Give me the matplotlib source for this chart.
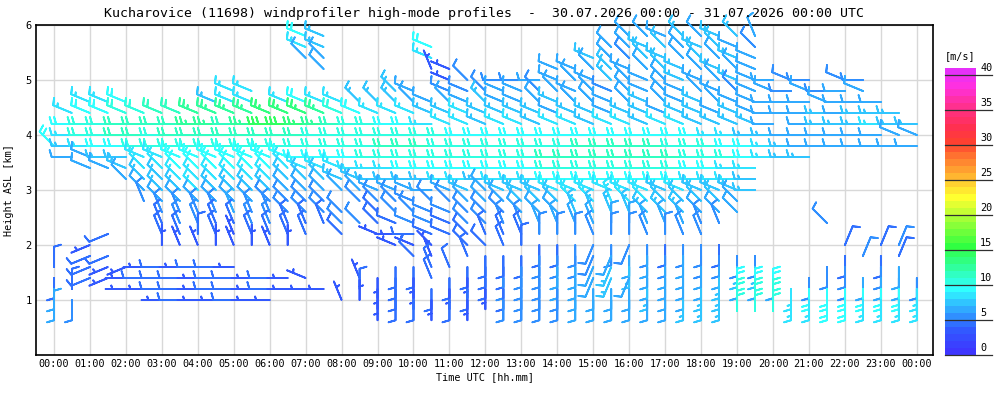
import numpy as np
import matplotlib
matplotlib.use("Agg")
import matplotlib.pyplot as plt
from matplotlib.colors import LinearSegmentedColormap, ListedColormap, BoundaryNorm

# profile times [h UTC] and range gates [km]
times_h = [0.0, 0.5, 1.0, 1.5, 2.0, 2.5, 3.0, 3.5, 4.0, 4.5, 5.0, 5.5,
           6.0, 6.5, 7.0, 7.5, 8.0, 8.5, 9.0, 9.5, 10.0, 10.5, 11.0, 11.5,
           12.0, 12.5, 13.0, 13.5, 14.0, 14.5, 15.0, 15.5, 16.0, 16.5, 17.0, 17.5,
           18.0, 18.5, 19.0, 19.5, 20.0, 20.5, 21.0, 21.5, 22.0, 22.5, 23.0, 23.5,
           24.0]
heights_km = [5.8, 5.6, 5.4, 5.2, 5.0, 4.8, 4.6, 4.4, 4.2, 4.0, 3.8, 3.6, 3.4,
              3.2, 3.0, 2.8, 2.6, 2.4, 2.2, 2.0, 1.8, 1.6, 1.4, 1.2, 1.0, 0.8]

# one token per profile time: 1st char = direction (hex * 22.5 deg, 0=N, 8=S, C=W),
# 2nd char = speed in m/s (hex), ".." = no data
barb_rows = [
    ".. .. .. ..  .. .. .. ..  .. .. .. ..  .. .. D9 D7  .. .. .. ..  .. .. .. ..  .. .. .. ..  .. .. .. ..  E6 E6 D6 E7  E6 D7 E7 F6  .. .. .. ..  .. .. .. ..  ..",
    ".. .. .. ..  .. .. .. ..  .. .. .. ..  .. .. D8 D7  .. .. .. ..  .. D9 .. ..  .. .. .. ..  .. .. .. E6  E6 D7 E7 E6  D7 E7 D6 E5  .. .. .. ..  .. .. .. ..  ..",
    ".. .. .. ..  .. .. .. ..  .. .. .. ..  .. .. E6 E6  .. .. .. ..  .. D8 .. ..  .. .. .. ..  .. .. D7 E6  E5 E7 D7 E6  E7 E6 D7 D6  .. .. .. ..  .. .. .. ..  ..",
    ".. .. .. ..  .. .. .. ..  .. .. .. ..  .. .. .. E6  .. .. .. ..  .. F3 D3 ..  .. .. .. ..  D6 D6 E6 E7  D6 E6 E7 D7  E6 D7 E6 D6  .. .. .. ..  .. .. .. ..  ..",
    ".. .. .. ..  .. .. .. ..  .. .. .. ..  .. .. .. ..  .. .. .. ..  .. .. D3 E5  .. C5 C5 C6  D6 E6 D6 E7  E6 D6 E6 D7  D6 E6 D7 D6  C6 D5 C5 ..  D5 C5 .. ..  ..",
    ".. .. .. ..  .. .. .. ..  .. .. D8 D8  .. .. .. ..  .. .. .. E7  D6 .. D5 D5  E5 D6 D6 E5  E6 D6 E6 D5  E6 D6 E6 D6  E6 D6 E5 D6  D6 C5 D6 C5  C6 D6 .. ..  ..",
    ".. .. D8 D8  D9 .. .. ..  .. D7 D8 D8  .. D8 D9 D8  D8 E7 E7 E7  E6 D6 E6 D6  E7 D6 D6 E6  D7 E6 E6 D6  E6 D7 E6 D6  D7 E6 D6 D6  C6 C6 C6 D6  C6 C6 C6 ..  ..",
    ".. D8 D9 D9  DA DA DB DB  DC DC DC DC  DD DD DD DC  DA D9 D8 D8  D8 D7 D7 D8  D7 D7 D7 D7  D6 D7 D7 D6  D7 D7 D6 D7  D7 D6 D7 D6  C6 C6 C6 C7  C6 C7 C7 C7  ..",
    ".. C9 CA CA  CB CB CB CB  CC CC CB CC  CE CE CD CC  CB CA CA C9  C9 C8 D8 D8  D7 D8 D8 D7  D8 D8 D7 D8  D8 D7 D8 D8  D7 D7 D7 D7  C6 .. C6 C7  C7 C7 C8 C7  C7",
    ".. C8 CA CA  CB CB CA CB  CB CB CB CB  CB CB CB CA  CA CA CA CA  CA CA CA C9  C9 C9 C9 C9  C9 C9 C9 C9  C9 C9 C9 C9  C9 C8 C8 C7  C7 C6 C6 C6  C6 C6 C6 D6  D6",
    "E9 C7 C8 C9  C9 CA CA CA  CA CA CA CA  CA CA CA CA  CA CA CA CB  CB CB CA CA  CA CA CA CA  CA CA CB CB  CB CB CB CA  CA CA C9 C9  C8 C7 C6 C6  C6 C6 C6 C6  C6",
    ".. C6 D6 C7  C7 D8 D8 D9  D9 D9 D9 D9  D9 D9 C9 C9  C9 C9 CA CA  CA CA CA CA  CA CA CA CA  CB CB CB CB  CB CB CB CB  CA CA CA C9  C8 C7 C7 ..  .. .. .. ..  ..",
    ".. .. D6 D6  D7 E8 E8 E9  E9 E9 E9 E9  E9 E8 D8 D8  D8 C8 C8 C8  C9 C9 C9 C9  C9 C9 C9 C9  CA CA CA CA  CA CA CA CA  C9 C9 C8 C8  .. .. .. ..  .. .. .. ..  ..",
    ".. .. .. ..  E6 E7 E7 E8  E8 E8 E8 E8  E8 E7 E7 E7  D7 D7 C7 C7  C7 C7 C8 C8  C7 C8 C8 C8  C9 C9 C9 C9  C9 C9 C9 C9  C8 C8 C8 C7  .. .. .. ..  .. .. .. ..  ..",
    ".. .. .. ..  .. E6 E7 E7  E8 E7 E7 E7  E7 E6 E6 E6  E6 E6 D6 D6  D6 C6 D6 D7  E6 D7 D7 D7  D8 D8 D8 D8  D8 D8 D7 D8  D7 D7 D7 C7  .. .. .. ..  .. .. .. ..  ..",
    ".. .. .. ..  .. F5 E6 E6  E6 E6 E6 E6  E5 E5 E5 E5  .. E5 E5 E5  D5 E5 E5 E6  E6 E6 E7 E7  E7 E8 E8 F8  E8 E8 E7 E7  E7 E7 E6 ..  .. .. .. ..  .. .. .. ..  ..",
    ".. .. .. ..  .. .. F5 F5  F5 F5 F6 F5  F5 E5 E5 E5  E5 .. E4 E5  E5 D5 D5 E5  E5 E5 E6 E6  E6 F7 F7 F7  F7 E7 E7 E7  E6 E6 E6 ..  .. .. .. ..  .. .. .. ..  ..",
    ".. .. .. ..  .. .. F4 F5  F5 F4 F4 F5  F5 F4 F4 F4  E5 E5 E4 D4  D5 D5 D4 E5  E5 F5 F5 F6  F6 F6 F6 06  06 F6 F6 F6  F5 F5 .. ..  .. .. .. E5  .. .. .. ..  ..",
    ".. .. .. B4  .. .. F4 F4  04 F4 F3 F4  F4 F4 F4 ..  E4 .. D3 C3  C4 D4 D4 E4  F4 F4 F4 05  05 05 F5 05  05 F5 05 F5  F5 .. .. ..  .. .. .. ..  .. .. .. ..  ..",
    ".. .. B3 ..  .. .. 03 F3  F3 03 F3 03  F3 03 .. ..  .. .. .. D3  D3 E3 .. E4  E4 F4 04 84  84 85 95 85  95 85 84 85  85 84 .. ..  .. .. .. ..  14 .. 14 15  ..",
    ".. .. B4 B4  .. .. .. ..  .. .. .. ..  .. .. .. ..  .. .. .. ..  E4 F3 .. F4  84 84 84 85  85 85 95 96  86 86 85 86  85 85 85 85  .. .. .. ..  84 15 84 14  ..",
    "04 .. B4 B3  B3 C3 C4 C3  C4 C4 C3 ..  .. .. .. ..  .. .. .. 84  84 F4 F4 84  84 84 85 85  86 86 96 97  87 86 86 86  86 86 87 87  .. .. .. 85  85 .. 85 86  ..",
    "84 .. B4 B3  C3 C4 C4 C4  C3 C4 C4 C3  C4 C3 D3 ..  .. F3 83 84  83 F4 84 83  84 85 85 85  86 86 96 97  96 86 86 86  86 87 86 86  86 .. 85 ..  85 86 86 86  85",
    "86 04 .. ..  C3 C3 C4 C4  C3 C4 C4 C3  C4 C3 C3 C3  .. 04 83 84  83 84 83 84  83 84 85 85  85 86 86 86  86 87 86 86  87 87 09 09  09 88 89 89  89 89 89 89  88",
    "86 85 .. ..  .. .. C3 C4  C3 C3 C4 C3  C3 .. .. ..  F3 03 83 84  84 83 84 83  .. 85 85 85  85 86 86 86  86 86 86 87  87 87 0A 0A  0A 88 88 89  89 88 88 88  88",
    "06 .. .. ..  .. .. .. ..  .. .. .. ..  .. .. .. ..  .. .. .. ..  .. .. .. ..  .. .. .. ..  .. .. .. ..  .. .. .. ..  .. .. 0A 0A  0A .. .. ..  .. .. .. ..  ..",
]

hour_labels = ["00:00", "01:00", "02:00", "03:00", "04:00", "05:00", "06:00",
               "07:00", "08:00", "09:00", "10:00", "11:00", "12:00", "13:00",
               "14:00", "15:00", "16:00", "17:00", "18:00", "19:00", "20:00",
               "21:00", "22:00", "23:00", "00:00"]
hour_ticks = list(range(25))
km_ticks = [1, 2, 3, 4, 5, 6]
speed_ticks = [0, 5, 10, 15, 20, 25, 30, 35, 40]

# colour scale 0..41 m/s in 1 m/s steps
anchors = [(0.0, "#4030ff"), (4.0, "#3060ff"), (5.5, "#3090ff"), (9.5, "#30ffff"),
           (15.5, "#30ff40"), (22.5, "#ffff30"), (30.5, "#ff4030"), (32.5, "#ff3050"),
           (35.0, "#ff3080"), (38.5, "#ff30e0"), (41.0, "#e030ff")]
smooth = LinearSegmentedColormap.from_list("wp", [(p / 41.0, c) for p, c in anchors])
cmap = ListedColormap(smooth((np.arange(41) + 0.5) / 41.0))
norm = BoundaryNorm(np.arange(42), 41)

xs, ys, us, vs, cs = [], [], [], [], []
for z, row in zip(heights_km, barb_rows):
    for t, tok in zip(times_h, row.split()):
        if tok == "..":
            continue
        d = np.deg2rad(int(tok[0], 16) * 22.5)
        s = int(tok[1], 16)
        xs.append(t)
        ys.append(z)
        us.append(-s * np.sin(d))
        vs.append(-s * np.cos(d))
        cs.append(s)

plt.rcParams["font.family"] = "DejaVu Sans Mono"
fig = plt.figure(figsize=(10, 4), dpi=100)
ax = fig.add_axes([0.036, 0.1125, 0.897, 0.825])

# matplotlib scales barb vertices by length/2, so staff ~ length**2/2 points
ax.barbs(xs, ys, us, vs, cs, cmap=cmap, norm=norm, length=5.4, linewidth=1.3,
         barb_increments=dict(half=2.5, full=5, flag=25),
         sizes=dict(spacing=0.22, height=0.34, width=0.2), clip_on=False, zorder=3)

ax.set_xlim(-0.5, 24.45)
ax.set_ylim(0, 6)
ax.set_xticks(hour_ticks)
ax.set_xticklabels(hour_labels, fontsize=7.3)
ax.set_yticks(km_ticks)
ax.set_yticklabels([str(k) for k in km_ticks], fontsize=7.5)
ax.tick_params(length=0, pad=3)
ax.grid(True, color="#d8d8d8", linewidth=1)
ax.set_axisbelow(True)
for sp in ax.spines.values():
    sp.set_linewidth(1.2)
ax.set_xlabel("Time UTC [hh.mm]", fontsize=7.3, labelpad=2)
ax.set_ylabel("Height ASL [km]", fontsize=7.3, labelpad=8)
ax.set_title("Kucharovice (11698) windprofiler high-mode profiles  -  "
             "30.07.2026 00:00 - 31.07.2026 00:00 UTC", fontsize=9.5, pad=6)

# colour bar
cax = fig.add_axes([0.945, 0.1125, 0.031, 0.718])
cax.pcolormesh([0, 1], np.arange(42), (np.arange(41) + 0.5).reshape(-1, 1),
               cmap=cmap, norm=norm)
cax.set_xlim(0, 1)
cax.set_ylim(0, 41)
cax.axis("off")
for v in speed_ticks:
    cax.plot([0, 1.52], [v, v], color="#303030", lw=0.9, clip_on=False)
    cax.text(1.13, v + 0.3, str(v), fontsize=7.3, ha="left", va="bottom")
cax.text(0.0, 42.0, "[m/s]", fontsize=7.3, ha="left", va="bottom")

fig.savefig("out.png", dpi=100)
